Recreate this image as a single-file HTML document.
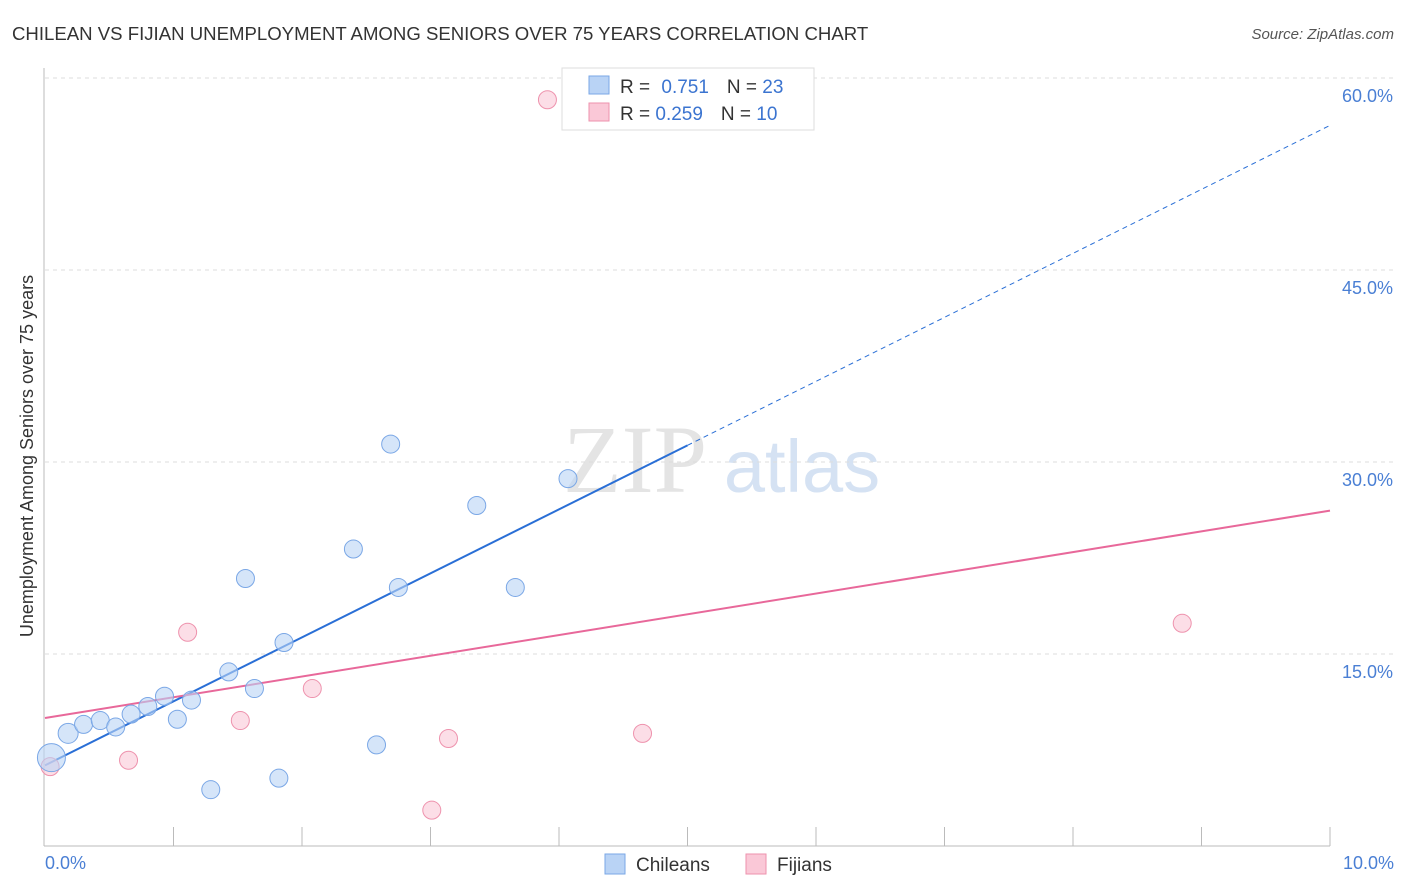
<!DOCTYPE html>
<html><head><meta charset="utf-8"><style>
body{margin:0;background:#fff;font-family:"Liberation Sans",sans-serif;}
svg{display:block}
</style></head><body>
<svg width="1406" height="892" viewBox="0 0 1406 892">
<text x="12" y="40" font-size="18.6" fill="#333">CHILEAN VS FIJIAN UNEMPLOYMENT AMONG SENIORS OVER 75 YEARS CORRELATION CHART</text>
<text x="1394" y="39" font-size="15" fill="#555" font-style="italic" text-anchor="end">Source: ZipAtlas.com</text>
<text x="635" y="492" font-size="96" fill="#e4e4e4" text-anchor="middle" font-family="Liberation Serif,serif">ZIP</text>
<text x="802" y="492" font-size="74" fill="#d5e2f3" text-anchor="middle">atlas</text>
<g id="grid"></g>
<g id="axes"></g>
<g id="lines"></g>
<g id="pts"></g>
<text transform="translate(33,456) rotate(-90)" font-size="18" fill="#333" text-anchor="middle">Unemployment Among Seniors over 75 years</text>
<text x="45" y="869" font-size="18" fill="#4a7fd4">0.0%</text>
<text x="1394" y="869" font-size="18" fill="#4a7fd4" text-anchor="end">10.0%</text>
<g>
<rect x="562" y="68" width="252" height="62" fill="#fff" stroke="#ddd"/>
<rect x="589" y="76" width="20" height="18" fill="#b9d3f5" stroke="#7aa7e6"/>
<rect x="589" y="103" width="20" height="18" fill="#fac8d7" stroke="#ee92ad"/>
<text x="620" y="93" font-size="19" fill="#333">R = <tspan fill="#3b74d0" dx="6">0.751</tspan><tspan dx="18" fill="#333">N = </tspan><tspan fill="#3b74d0">23</tspan></text>
<text x="620" y="120" font-size="19" fill="#333">R = <tspan fill="#3b74d0">0.259</tspan><tspan dx="18" fill="#333">N = </tspan><tspan fill="#3b74d0">10</tspan></text>
</g>
<g>
<rect x="605" y="854" width="20" height="20" fill="#b9d3f5" stroke="#7aa7e6"/>
<text x="636" y="871" font-size="19" fill="#333">Chileans</text>
<rect x="746" y="854" width="20" height="20" fill="#fac8d7" stroke="#ee92ad"/>
<text x="777" y="871" font-size="19" fill="#333">Fijians</text>
</g>
</svg>
<script>
const yTicks=[15,30,45,60];
const yTickLabels=["15.0%","30.0%","45.0%","60.0%"];
const chileX=[0.05,0.18,0.30,0.43,0.55,0.67,0.80,0.93,1.03,1.14,1.29,1.43,1.56,1.63,1.82,1.86,2.40,2.58,2.69,2.75,3.36,3.66,4.07];
const chileY=[6.9,8.8,9.5,9.8,9.3,10.3,10.9,11.7,9.9,11.4,4.4,13.6,20.9,12.3,5.3,15.9,23.2,7.9,31.4,20.2,26.6,20.2,28.7];
const fijiX=[0.04,0.65,1.11,1.52,2.08,3.01,3.14,3.91,4.65,8.85];
const fijiY=[6.2,6.7,16.7,9.8,12.3,2.8,8.4,58.3,8.8,17.4];
const chileTrend=[6.3,56.3];
const fijiTrend=[10.0,26.2];
const NS="http://www.w3.org/2000/svg";
const X=v=>45+v*128.5, Y=v=>846-v*12.8;
function mk(t,a,p){const e=document.createElementNS(NS,t);for(const k in a)e.setAttribute(k,a[k]);p.appendChild(e);return e;}
const grid=document.getElementById('grid'),axes=document.getElementById('axes'),lines=document.getElementById('lines'),pts=document.getElementById('pts');
yTicks.forEach((t,i)=>{
 const l=mk('line',{x1:45,x2:1394,y1:Y(t),y2:Y(t),stroke:'#ddd','stroke-dasharray':'4,4'},grid);
 
 
 const tx=mk('text',{x:1393,y:Y(t)+24,'font-size':18,fill:'#4a7fd4','text-anchor':'end'},grid);
 tx.textContent=yTickLabels[i];
 
 
});
mk('line',{x1:44,x2:44,y1:68,y2:846,stroke:'#bbb'},axes);
mk('line',{x1:44,x2:1330,y1:846,y2:846,stroke:'#bbb'},axes);
for(let i=1;i<=10;i++){const t=mk('line',{x1:X(i),x2:X(i),y1:827,y2:846,stroke:'#bbb'},axes);
 
 }
const cs=(chileTrend[1]-chileTrend[0])/10, xs=5.0;
let l1=mk('line',{x1:X(0),y1:Y(chileTrend[0]),x2:X(xs),y2:Y(chileTrend[0]+cs*xs),stroke:'#2a6fd6','stroke-width':2},lines);


let l2=mk('line',{x1:X(xs),y1:Y(chileTrend[0]+cs*xs),x2:X(10),y2:Y(chileTrend[1]),stroke:'#2a6fd6','stroke-width':1,'stroke-dasharray':'5,4'},lines);


let l3=mk('line',{x1:X(0),y1:Y(fijiTrend[0]),x2:X(10),y2:Y(fijiTrend[1]),stroke:'#e8689a','stroke-width':2},lines);


fijiX.forEach((x,i)=>{const c=mk('circle',{cx:X(x),cy:Y(fijiY[i]),r:9,fill:'rgba(250,200,215,0.6)',stroke:'#ee92ad'},pts);
 
 });
chileX.forEach((x,i)=>{const c=mk('circle',{cx:X(x),cy:Y(chileY[i]),r:i==0?14:(i==1?10:9),fill:'rgba(185,211,245,0.6)',stroke:'#7aa7e6'},pts);
 
 });
</script>
</body></html>
